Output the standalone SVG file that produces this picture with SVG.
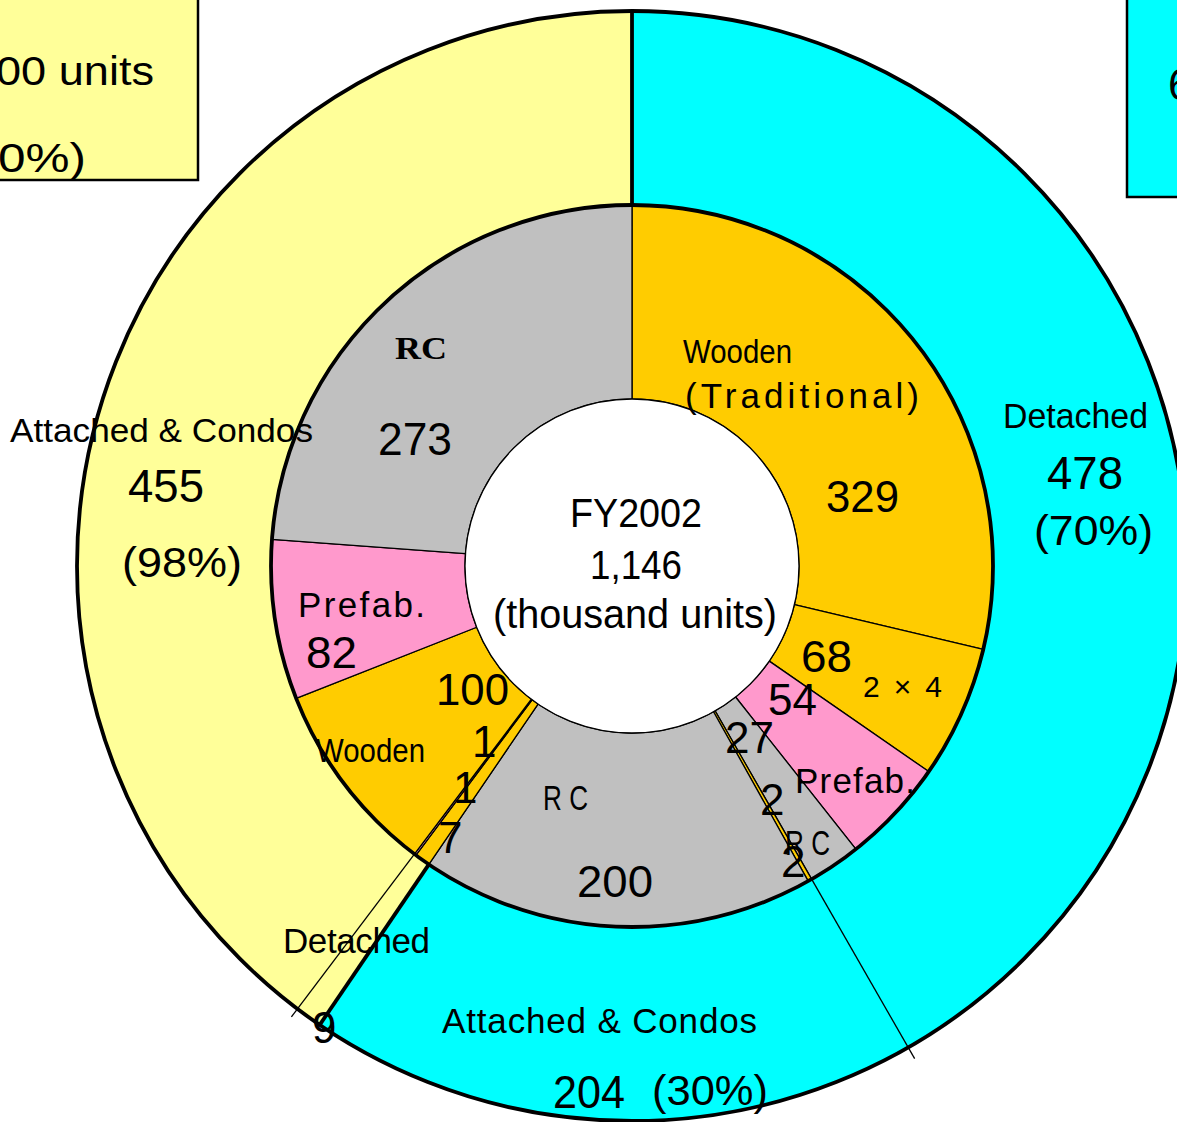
<svg xmlns="http://www.w3.org/2000/svg" width="1177" height="1122" viewBox="0 0 1177 1122">
<style>
.t{font-family:"Liberation Sans",Arial,sans-serif;fill:#000}
.g{font-family:"Liberation Sans",Arial,sans-serif;fill:#000;font-size:35px}
.s{font-family:"Liberation Serif","Times New Roman",serif;font-weight:bold;fill:#000}
.seg{stroke:#000;stroke-width:1.3;stroke-linejoin:round}
.ring{fill:none;stroke:#000;stroke-width:3.8}
.gold{fill:#FFCC00}.gray{fill:#C0C0C0}.pink{fill:#FF99CC}.cyan{fill:#00FFFF}.yel{fill:#FFFF99}
.thick{stroke:#000;stroke-width:3.8;stroke-linecap:butt}
.thin{stroke:#000;stroke-width:1.3}
</style>
<rect width="1177" height="1122" fill="#FFFFFF"/>
<g id="legend-rental">
<rect x="-5" y="-5" width="203" height="185" class="yel" stroke="#000" stroke-width="2.5"/>
<text class="t" x="-4" y="85" font-size="40" textLength="158" lengthAdjust="spacingAndGlyphs">00 units</text>
<text class="t" x="-2" y="172" font-size="40" textLength="88" lengthAdjust="spacingAndGlyphs">0%)</text>
</g>
<g id="legend-owner">
<rect x="1127" y="-5" width="60" height="202" class="cyan" stroke="#000" stroke-width="2.5"/>
<text class="t" x="1168" y="100" font-size="44">6</text>
</g>
<g id="outer-detached-owner">
<path class="cyan" d="M632,205 L632,11 A555,555 0 0 1 908.17,1047.41 L811.63,879.13 A361,361 0 0 0 632,205 Z"/>
</g>
<g id="outer-attached-owner">
<path class="cyan" d="M811.63,879.13 L908.17,1047.41 A555,555 0 0 1 319.70,1024.82 L428.87,864.44 A361,361 0 0 0 811.63,879.13 Z"/>
</g>
<g id="outer-detached-rental">
<path class="yel" d="M428.87,864.44 L319.70,1024.82 A555,555 0 0 1 297.45,1008.83 L414.39,854.04 A361,361 0 0 0 428.87,864.44 Z"/>
</g>
<g id="outer-attached-rental">
<path class="yel" d="M414.39,854.04 L297.45,1008.83 A555,555 0 0 1 632,11 L632,205 A361,361 0 0 0 414.39,854.04 Z"/>
</g>
<g id="inner-wooden-traditional">
<path class="gold seg" d="M632,399 L632,205 A361,361 0 0 1 983.24,649.37 L794.49,604.57 A167,167 0 0 0 632,399 Z"/>
</g>
<g id="inner-2x4">
<path class="gold seg" d="M794.49,604.57 L983.24,649.37 A361,361 0 0 1 928.74,771.59 L769.27,661.11 A167,167 0 0 0 794.49,604.57 Z"/>
</g>
<g id="inner-prefab-detached">
<path class="pink seg" d="M769.27,661.11 L928.74,771.59 A361,361 0 0 1 855.86,849.20 L735.56,697.01 A167,167 0 0 0 769.27,661.11 Z"/>
</g>
<g id="inner-rc-detached">
<path class="gray seg" d="M735.56,697.01 L855.86,849.20 A361,361 0 0 1 811.63,879.13 L715.10,710.86 A167,167 0 0 0 735.56,697.01 Z"/>
</g>
<g id="inner-wooden-attached-owner">
<path class="gold seg" d="M715.10,710.86 L811.63,879.13 A361,361 0 0 1 808.20,881.08 L713.51,711.76 A167,167 0 0 0 715.10,710.86 Z"/>
</g>
<g id="inner-rc-attached-owner">
<path class="gray seg" d="M713.51,711.76 L808.20,881.08 A361,361 0 0 1 428.87,864.44 L538.03,704.06 A167,167 0 0 0 713.51,711.76 Z"/>
</g>
<g id="inner-wooden-detached-rental">
<path class="gold seg" d="M538.03,704.06 L428.87,864.44 A361,361 0 0 1 415.98,855.23 L532.07,699.80 A167,167 0 0 0 538.03,704.06 Z"/>
</g>
<g id="inner-prefab-detached-rental">
<path class="pink seg" d="M532.07,699.80 L415.98,855.23 A361,361 0 0 1 414.39,854.04 L531.33,699.25 A167,167 0 0 0 532.07,699.80 Z"/>
</g>
<g id="inner-wooden-attached-rental">
<path class="gold seg" d="M531.33,699.25 L414.39,854.04 A361,361 0 0 1 296.16,698.41 L476.64,627.26 A167,167 0 0 0 531.33,699.25 Z"/>
</g>
<g id="inner-prefab-attached-rental">
<path class="pink seg" d="M476.64,627.26 L296.16,698.41 A361,361 0 0 1 271.97,539.29 L465.45,553.64 A167,167 0 0 0 476.64,627.26 Z"/>
</g>
<g id="inner-rc-attached-rental">
<path class="gray seg" d="M465.45,553.64 L271.97,539.29 A361,361 0 0 1 632,205 L632,399 A167,167 0 0 0 465.45,553.64 Z"/>
</g>
<g id="center">
<circle cx="632" cy="566" r="167" fill="#FFFFFF" stroke="#000" stroke-width="1.3"/>
<text class="t" x="570" y="527" font-size="40" textLength="132" lengthAdjust="spacingAndGlyphs">FY2002</text>
<text class="t" x="590" y="579" font-size="40" textLength="92" lengthAdjust="spacingAndGlyphs">1,146</text>
<text class="t" x="493" y="628" font-size="40" textLength="284" lengthAdjust="spacingAndGlyphs">(thousand units)</text>
</g>
<g id="connectors">
<circle class="ring" cx="632" cy="566" r="361"/>
<circle class="ring" cx="632" cy="566" r="555"/>
<line class="thick" x1="632" y1="205" x2="632" y2="11"/>
<line class="thick" x1="428.87" y1="864.44" x2="319.70" y2="1024.82"/>
<line class="thin" x1="811.63" y1="879.13" x2="914.64" y2="1058.68"/>
<line class="thin" x1="414.39" y1="854.04" x2="291.42" y2="1016.81"/>
</g>
<g id="labels">
<text class="t" x="10" y="442" font-size="34" textLength="303" lengthAdjust="spacingAndGlyphs">Attached &amp; Condos</text>
<text class="t" x="128" y="502" font-size="46" textLength="76" lengthAdjust="spacingAndGlyphs">455</text>
<text class="t" x="122" y="577" font-size="42" textLength="120" lengthAdjust="spacingAndGlyphs">(98%)</text>
<text class="s" x="395" y="359" font-size="32" textLength="52" lengthAdjust="spacingAndGlyphs">RC</text>
<text class="t" x="378" y="455" font-size="46" textLength="74" lengthAdjust="spacingAndGlyphs">273</text>
<text class="t" x="683" y="363" font-size="33" textLength="109" lengthAdjust="spacingAndGlyphs">Wooden</text>
<text class="g" x="685" y="408" textLength="234" lengthAdjust="spacing">(Traditional)</text>
<text class="t" x="826" y="512" font-size="44" textLength="73" lengthAdjust="spacingAndGlyphs">329</text>
<text class="t" x="1003" y="428" font-size="35" textLength="145" lengthAdjust="spacingAndGlyphs">Detached</text>
<text class="t" x="1047" y="489" font-size="46" textLength="76" lengthAdjust="spacingAndGlyphs">478</text>
<text class="t" x="1034" y="545" font-size="42" textLength="119" lengthAdjust="spacingAndGlyphs">(70%)</text>
<text class="t" x="801" y="672" font-size="44" textLength="51" lengthAdjust="spacingAndGlyphs">68</text>
<text class="g" x="863" y="697" style="font-size:30px" textLength="79" lengthAdjust="spacing">2×4</text>
<text class="t" x="768" y="715" font-size="44" textLength="49" lengthAdjust="spacingAndGlyphs">54</text>
<text class="t" x="725" y="753" font-size="44" textLength="49" lengthAdjust="spacingAndGlyphs">27</text>
<text class="g" x="795" y="793" textLength="120" lengthAdjust="spacing">Prefab.</text>
<text class="t" x="760" y="815" font-size="44">2</text>
<text class="g" x="785" y="855" textLength="45" lengthAdjust="spacingAndGlyphs">R C</text>
<text class="t" x="781" y="877" font-size="44">2</text>
<text class="g" x="298" y="617" textLength="127" lengthAdjust="spacing">Prefab.</text>
<text class="t" x="306" y="668" font-size="44" textLength="51" lengthAdjust="spacingAndGlyphs">82</text>
<text class="t" x="436" y="705" font-size="44" textLength="73" lengthAdjust="spacingAndGlyphs">100</text>
<text class="t" x="316" y="762" font-size="33" textLength="109" lengthAdjust="spacingAndGlyphs">Wooden</text>
<text class="t" x="472" y="757" font-size="44">1</text>
<text class="t" x="453" y="803" font-size="44">1</text>
<text class="t" x="438" y="853" font-size="44">7</text>
<text class="g" x="543" y="810" textLength="45" lengthAdjust="spacingAndGlyphs">R C</text>
<text class="t" x="577" y="897" font-size="44" textLength="76" lengthAdjust="spacingAndGlyphs">200</text>
<text class="g" x="283" y="953" textLength="147" lengthAdjust="spacing">Detached</text>
<text class="t" x="312" y="1043" font-size="44">9</text>
<text class="g" x="442" y="1033" textLength="315" lengthAdjust="spacing">Attached &amp; Condos</text>
<text class="t" x="553" y="1108" font-size="46" textLength="72" lengthAdjust="spacingAndGlyphs">204</text>
<text class="t" x="652" y="1105" font-size="42" textLength="116" lengthAdjust="spacingAndGlyphs">(30%)</text>
</g>
</svg>
